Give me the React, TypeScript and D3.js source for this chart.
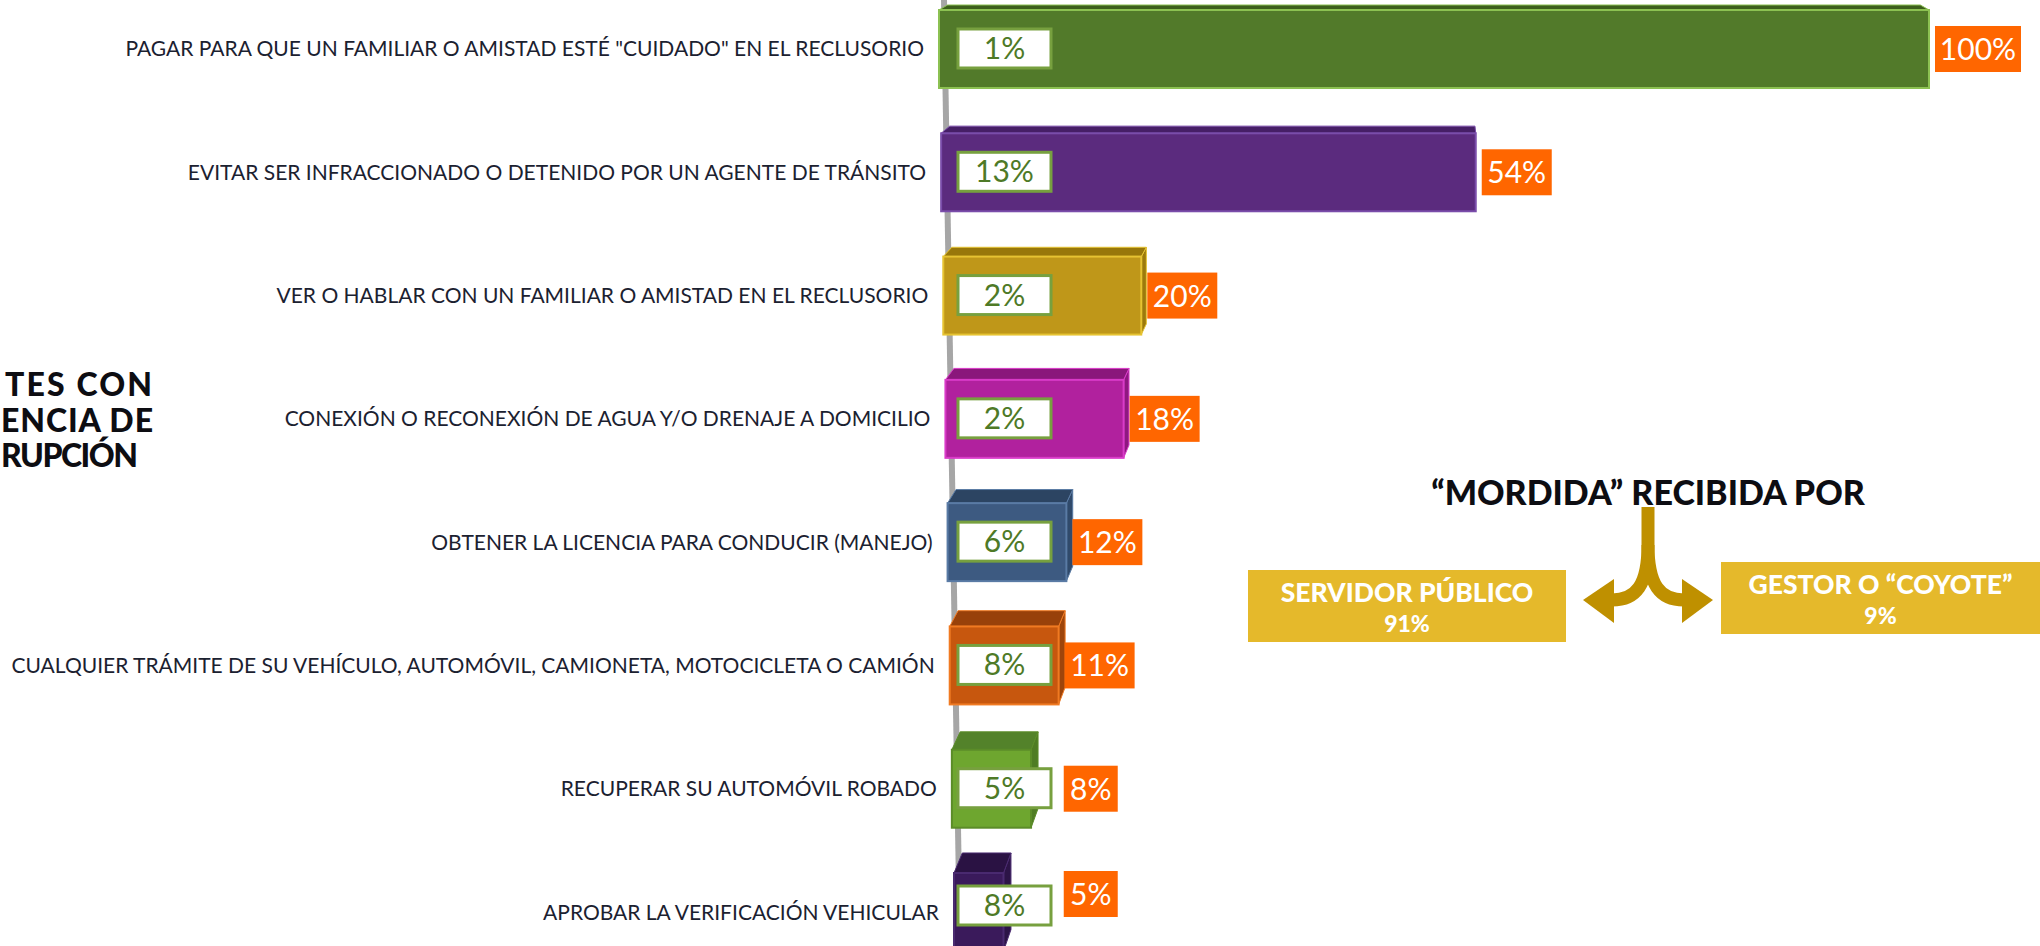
import React from "react";
import * as d3 from "d3";

const categories = [
  'PAGAR PARA QUE UN FAMILIAR O AMISTAD ESTÉ "CUIDADO" EN EL RECLUSORIO',
  "EVITAR SER INFRACCIONADO O DETENIDO POR UN AGENTE DE TRÁNSITO",
  "VER O HABLAR CON UN FAMILIAR O AMISTAD EN EL RECLUSORIO",
  "CONEXIÓN O RECONEXIÓN DE AGUA Y/O DRENAJE A DOMICILIO",
  "OBTENER LA LICENCIA PARA CONDUCIR (MANEJO)",
  "CUALQUIER TRÁMITE DE SU VEHÍCULO, AUTOMÓVIL, CAMIONETA, MOTOCICLETA O CAMIÓN",
  "RECUPERAR SU AUTOMÓVIL ROBADO",
  "APROBAR LA VERIFICACIÓN VEHICULAR",
];
const barValues = [100, 54, 20, 18, 12, 11, 8, 5];
const innerValues = [1, 13, 2, 2, 6, 8, 5, 8];

const titleLines = ["TES CON", "ENCIA DE", "RUPCIÓN"];
const sideTitle = "“MORDIDA” RECIBIDA POR";
const receivers = ["SERVIDOR PÚBLICO", "GESTOR O “COYOTE”"];
const receiverValues = [91, 9];

const frontColors = ["#527A2A", "#5B2B7E", "#BF9719", "#B1219E", "#3D5A81", "#C7570E", "#6EA62F", "#3A1A5B"];
const topColors = ["#3C5E1C", "#461F66", "#98770A", "#8A177B", "#2C4462", "#98410A", "#53822A", "#2A1243"];
const sideColors = ["#3F6420", "#4A2270", "#9C7A0C", "#8E1980", "#304A6B", "#9E450B", "#4F7C24", "#2C1447"];
const edgeColors = ["#8CC152", "#7A4DAA", "#E6C332", "#D93BC8", "#5A7BA5", "#F07A22", "#5B8C28", "#4A2A70"];

const W = 2040;
const H = 946;
const FONT = "Lato, 'Gill Sans', 'Noto Sans', sans-serif";

// title line layout (left start, fitted width)
const titleStart = [5, 1, 1];
const titleWidth = [147, 152, 137];

export default function App() {
  const y = d3.scaleBand<string>().domain(categories).range([-12.65, 973.65]).paddingInner(0.3674).paddingOuter(0.1837);
  const x = d3.scaleLinear().domain([0, 100]).range([0, 990]);
  const baseline = d3.scaleLinear().domain([49, 912]).range([939, 954]);
  const VP = [1432, -278];
  const k = 0.0174;
  const back = (px: number, py: number) => [px + k * (VP[0] - px), py + k * (VP[1] - py)];
  const bw = y.bandwidth();

  return (
    <div>
      <style>{`body{margin:0;background:#fff}`}</style>
      <svg width={W} height={H} style={{ display: "block" }} fontFamily={FONT}>
        <rect width={W} height={H} fill="#ffffff" />
        {/* axis line */}
        <line x1={944} y1={0} x2={960} y2={H} stroke="#A6A6A6" strokeWidth={6} />

        {/* left title fragments */}
        {titleLines.map((t, i) => (
          <text
            key={t}
            x={titleStart[i]}
            y={396 + i * 35.5}
            textLength={titleWidth[i]}
            lengthAdjust="spacing"
            fontSize={32}
            fontWeight={900}
            fill="#0d0d12"
          >
            {t}
          </text>
        ))}

        {categories.map((c, i) => {
          const yt = y(c)!;
          const yb = yt + bw;
          const yc = yt + bw / 2;
          const x0 = baseline(yc);
          const x1 = x0 + x(barValues[i]);
          const btl = back(x0, yt);
          const btr = back(x1, yt);
          const bbr = back(x1, yb);
          const top = `M${x0},${yt}L${x1},${yt}L${btr[0]},${btr[1]}L${btl[0]},${btl[1]}Z`;
          const side = `M${x1},${yt}L${btr[0]},${btr[1]}L${bbr[0]},${bbr[1]}L${x1},${yb}Z`;
          const label = `${barValues[i]}%`;
          const lw = 22 + 16 * label.length;
          const lx = Math.max(x1 + 6, x(12.6) + 939);
          const ly = Math.min(yc, H - 52);
          const iy = Math.min(yc, H - 40);
          const inner = `${innerValues[i]}%`;
          return (
            <g key={c}>
              <text x={x0 - 15} y={yc + 7.5} textAnchor="end" fontSize={21} fill="#1b2130">
                {c}
              </text>
              {btr[0] > x1 && <path d={side} fill={sideColors[i]} stroke={edgeColors[i]} strokeWidth={1} />}
              <path d={top} fill={topColors[i]} stroke={edgeColors[i]} strokeWidth={1} />
              <rect x={x0} y={yt} width={x1 - x0} height={bw} fill={frontColors[i]} stroke={edgeColors[i]} strokeWidth={2} />
              <rect x={958} y={iy - 20} width={93} height={39} fill="#ffffff" stroke="#77A03F" strokeWidth={3} />
              <text x={958 + 46.5} y={iy + 10} textAnchor="middle" fontSize={30} fill="#4E7A27">
                {inner}
              </text>
              <rect x={lx} y={ly - 23} width={lw} height={46} fill="#FF6600" />
              <text x={lx + lw / 2} y={ly + 11} textAnchor="middle" fontSize={30} fill="#ffffff">
                {label}
              </text>
            </g>
          );
        })}

        {/* right side diagram */}
        <text x={1648} y={505} textAnchor="middle" fontSize={34} fontWeight={900} fill="#0d0d12">
          {sideTitle}
        </text>
        <g fill="none" stroke="#BF9000" strokeWidth={13}>
          <path d="M1648,507L1648,545C1648,585 1636,600 1612,600" />
          <path d="M1648,545C1648,585 1660,600 1684,600" />
        </g>
        <path d="M1583,600L1614,579L1614,623Z" fill="#BF9000" />
        <path d="M1713,600L1682,579L1682,623Z" fill="#BF9000" />

        {receivers.map((r, i) => {
          const bx = i === 0 ? 1248 : 1721;
          const by = i === 0 ? 570 : 562;
          const bwid = i === 0 ? 318 : 319;
          return (
            <g key={r}>
              <rect x={bx} y={by} width={bwid} height={72} fill="#E5B92B" />
              <text x={bx + bwid / 2} y={by + 32} textAnchor="middle" fontSize={26.5} fontWeight={900} fill="#ffffff">
                {r}
              </text>
              <text x={bx + bwid / 2} y={by + 62} textAnchor="middle" fontSize={23} fontWeight={900} fill="#ffffff">
                {`${receiverValues[i]}%`}
              </text>
            </g>
          );
        })}
      </svg>
    </div>
  );
}
